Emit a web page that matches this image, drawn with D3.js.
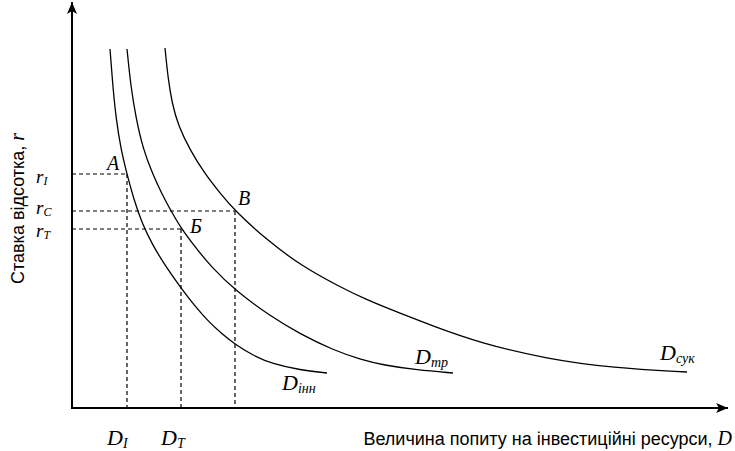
<!DOCTYPE html>
<html><head><meta charset="utf-8">
<script src="https://cdn.jsdelivr.net/npm/d3@7/dist/d3.min.js"></script>
<style>
html,body{margin:0;padding:0;background:#fff;}
svg{display:block;}
.serif{font-family:"Liberation Serif","Times New Roman",serif;font-style:italic;}
.sans{font-family:"Liberation Sans",Arial,sans-serif;}
</style></head>
<body>
<svg id="c" width="735" height="451"></svg>
<script>
// Demand curves: [D, r] in arbitrary units
const curveInn = [[38,359],[41,320],[44,290],[49,258],[55,234],[62,208],[70,185],[80,164],[94,141],[109,120],[122,103],[135,88],[150,74],[164,63],[182,52],[201,44],[228,38],[255,35]];
const curveTr  = [[55,359],[59,320],[64,290],[71,259],[81,233],[90,214],[99,197],[109,180],[120,165],[140,140],[164,117],[198,92],[228,74],[261,58],[290,48],[311,43],[345,38],[381,35]];
const curveSuk = [[93,360],[96,330],[100,305],[106,283],[118,258],[133,234],[148,215],[163,197],[195,168],[228,143],[268,121],[295,108],[330,94],[361,82],[408,65],[475,49],[541,40],[615,36]];
// Equilibrium levels (rate r and the demand D where the guide turns down)
const rLevels = [{name:"I", r:234, d:55}, {name:"C", r:197, d:163}, {name:"T", r:179, d:109}];
const dTicks  = [{name:"I", d:55}, {name:"T", d:109}];
const pointLabels = [{t:"A", d:55, r:234}, {t:"В", d:163, r:197}, {t:"Б", d:109, r:179}];
const curveNames = [{main:"D", sub:"інн", d:255, r:35}, {main:"D", sub:"тр", d:381, r:35}, {main:"D", sub:"сук", d:615, r:36}];

const svg = d3.select("#c");
const x = d3.scaleLinear().domain([0,655]).range([72,727]);
const y = d3.scaleLinear().domain([0,406]).range([408,2]);

const defs = svg.append("defs");
defs.append("marker").attr("id","arr").attr("viewBox","0 0 12 10")
  .attr("refX",12).attr("refY",5).attr("markerWidth",12).attr("markerHeight",10)
  .attr("markerUnits","userSpaceOnUse").attr("orient","auto")
  .append("path").attr("d","M0,0 L12,5 L0,10 L3,5 Z").attr("fill","#000");

// axes
svg.append("line").attr("x1",x(0)).attr("y1",y(0)).attr("x2",x(0)).attr("y2",y(406))
  .attr("stroke","#000").attr("stroke-width",2).attr("marker-end","url(#arr)");
svg.append("line").attr("x1",x(0)-1).attr("y1",y(0)).attr("x2",x(656)).attr("y2",y(0))
  .attr("stroke","#000").attr("stroke-width",2).attr("marker-end","url(#arr)");

// dashed guides
rLevels.forEach(l=>{
  svg.append("line").attr("x1",x(0)).attr("x2",x(l.d)).attr("y1",y(l.r)).attr("y2",y(l.r))
    .attr("stroke","#000").attr("stroke-width",1.2).attr("stroke-dasharray","4,3");
  svg.append("line").attr("x1",x(l.d)).attr("x2",x(l.d)).attr("y1",y(l.r)).attr("y2",y(0))
    .attr("stroke","#000").attr("stroke-width",1.2).attr("stroke-dasharray","4,3");
});

// curves
const line = d3.line().x(d=>x(d[0])).y(d=>y(d[1])).curve(d3.curveBasis);
[curveInn,curveTr,curveSuk].forEach(c=>{
  svg.append("path").attr("d",line(c)).attr("fill","none").attr("stroke","#000").attr("stroke-width",1.3);
});

// r labels on the vertical axis
const rOff = {I:9, C:3, T:8};
rLevels.forEach(l=>{
  const t = svg.append("text").attr("class","serif").attr("x",36).attr("y",y(l.r)+rOff[l.name]).attr("font-size",19);
  t.append("tspan").text("r");
  t.append("tspan").attr("font-size",12).attr("dy",2).text(l.name);
});
// D labels under the horizontal axis
dTicks.forEach(l=>{
  const t = svg.append("text").attr("class","serif").attr("x",x(l.d)-20).attr("y",445).attr("font-size",22);
  t.append("tspan").text("D");
  t.append("tspan").attr("font-size",14).attr("dy",3).text(l.name);
});
// point labels
const pOff = {"A":[-20,-4], "В":[3,-6], "Б":[9,4]};
pointLabels.forEach(p=>{
  svg.append("text").attr("class","serif").attr("x",x(p.d)+pOff[p.t][0]).attr("y",y(p.r)+pOff[p.t][1])
    .attr("font-size",20).text(p.t);
});

// curve names
const nameOff = [[-45,17],[-38,-9],[-27,-12]];
curveNames.forEach((c,i)=>{
  const t = svg.append("text").attr("class","serif").attr("x",x(c.d)+nameOff[i][0]).attr("y",y(c.r)+nameOff[i][1]).attr("font-size",22);
  t.append("tspan").text(c.main);
  t.append("tspan").attr("font-size",14).attr("dy",3).text(c.sub);
});

// axis titles
const xt = svg.append("text").attr("class","sans").attr("x",732).attr("y",445).attr("text-anchor","end").attr("font-size",18);
xt.append("tspan").text("Величина попиту на інвестиційні ресурси, ");
xt.append("tspan").attr("class","serif").attr("font-size",20).text("D");

const yt = svg.append("text").attr("class","sans").attr("transform","translate(24,284) rotate(-90)").attr("font-size",18);
yt.append("tspan").text("Ставка відсотка, ");
yt.append("tspan").attr("class","serif").attr("font-size",20).text("r");
</script>
</body></html>
